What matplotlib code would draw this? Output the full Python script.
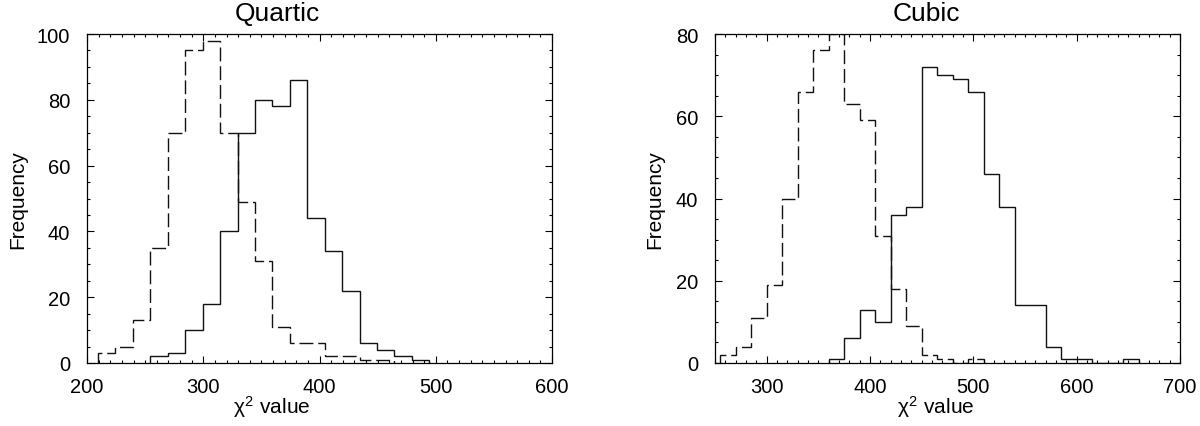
import matplotlib
matplotlib.use("Agg")
import matplotlib.pyplot as plt
import numpy as np
from matplotlib.ticker import MultipleLocator

plt.rcParams['font.family'] = ['Liberation Sans', 'DejaVu Sans']
plt.rcParams['mathtext.fontset'] = 'custom'
plt.rcParams['mathtext.rm'] = 'Liberation Sans'
plt.rcParams['mathtext.it'] = 'Liberation Sans'
plt.rcParams['lines.scale_dashes'] = False

# ---- data ----
bin_width = 15
# Quartic panel
quartic_solid_start = 254.5
quartic_solid = [2, 3, 10, 18, 40, 70, 80, 78, 86, 44, 34, 22, 6, 4, 2, 1]
quartic_dash_start = 209.5
quartic_dash = [3, 5, 13, 35, 70, 95, 98, 70, 49, 31, 11, 6, 6, 2, 2, 1, 1]
# Cubic panel
cubic_solid_start = 360
cubic_solid = [1, 6, 13, 10, 36, 38, 72, 70, 69, 66, 46, 38, 14, 14, 4, 1, 1, 0, 0, 1]
cubic_dash_start = 255
cubic_dash = [2, 4, 11, 19, 40, 66, 76, 80, 63, 59, 31, 18, 9, 2, 1, 0, 1]

titles = ["Quartic", "Cubic"]
xlims = [(200, 600), (250, 700)]
ylims = [(0, 100), (0, 80)]
xticks = [[200, 300, 400, 500, 600], [300, 400, 500, 600, 700]]
yticks = [[0, 20, 40, 60, 80, 100], [0, 20, 40, 60, 80]]

W, H = 1200, 427
fig = plt.figure(figsize=(W / 100, H / 100), dpi=100)

axes_px = [(87, 35, 552, 364), (715, 35, 1180, 364)]
title_x = [277, 926]
xlabel_x = [272, 936]
ylabel_x = [18, 655]

panels = [
    (quartic_solid_start, quartic_solid, quartic_dash_start, quartic_dash),
    (cubic_solid_start, cubic_solid, cubic_dash_start, cubic_dash),
]

for i, (ss, sv, ds, dv) in enumerate(panels):
    x0, y0, x1, y1 = axes_px[i]
    ax = fig.add_axes([x0 / W, (H - y1) / H, (x1 - x0) / W, (y1 - y0) / H])
    se = ss + bin_width * np.arange(len(sv) + 1)
    de = ds + bin_width * np.arange(len(dv) + 1)
    ax.stairs(sv, se, color='#111111', lw=1.0, baseline=0)
    st = ax.stairs(dv, de, color='#111111', lw=1.0, baseline=0)
    st.set_linestyle((0, (10, 3.5)))
    ax.set_xlim(*xlims[i])
    ax.set_ylim(*ylims[i])
    ax.set_xticks(xticks[i])
    ax.set_yticks(yticks[i])
    ax.xaxis.set_minor_locator(MultipleLocator(10))
    ax.yaxis.set_minor_locator(MultipleLocator(5))
    ax.tick_params(which='both', direction='in', top=True, right=True,
                   width=0.8, color='black')
    ax.tick_params(which='major', length=5, labelsize=14.5)
    ax.tick_params(which='minor', length=2.5)
    ax.tick_params(axis='x', which='major', pad=10)
    ax.tick_params(axis='y', which='major', pad=12)
    for sp in ax.spines.values():
        sp.set_linewidth(0.9)
    fig.text(title_x[i] / W, 1 - 14 / H, titles[i], ha='center', va='center',
             fontsize=19)
    fig.text(xlabel_x[i] / W, 1 - 407 / H, r'$\chi^{2}$ value', ha='center',
             va='center', fontsize=15)
    fig.text(ylabel_x[i] / W, 1 - 200 / H, 'Frequency', ha='center',
             va='center', rotation=90, fontsize=15)

fig.savefig("out.png", dpi=100)
